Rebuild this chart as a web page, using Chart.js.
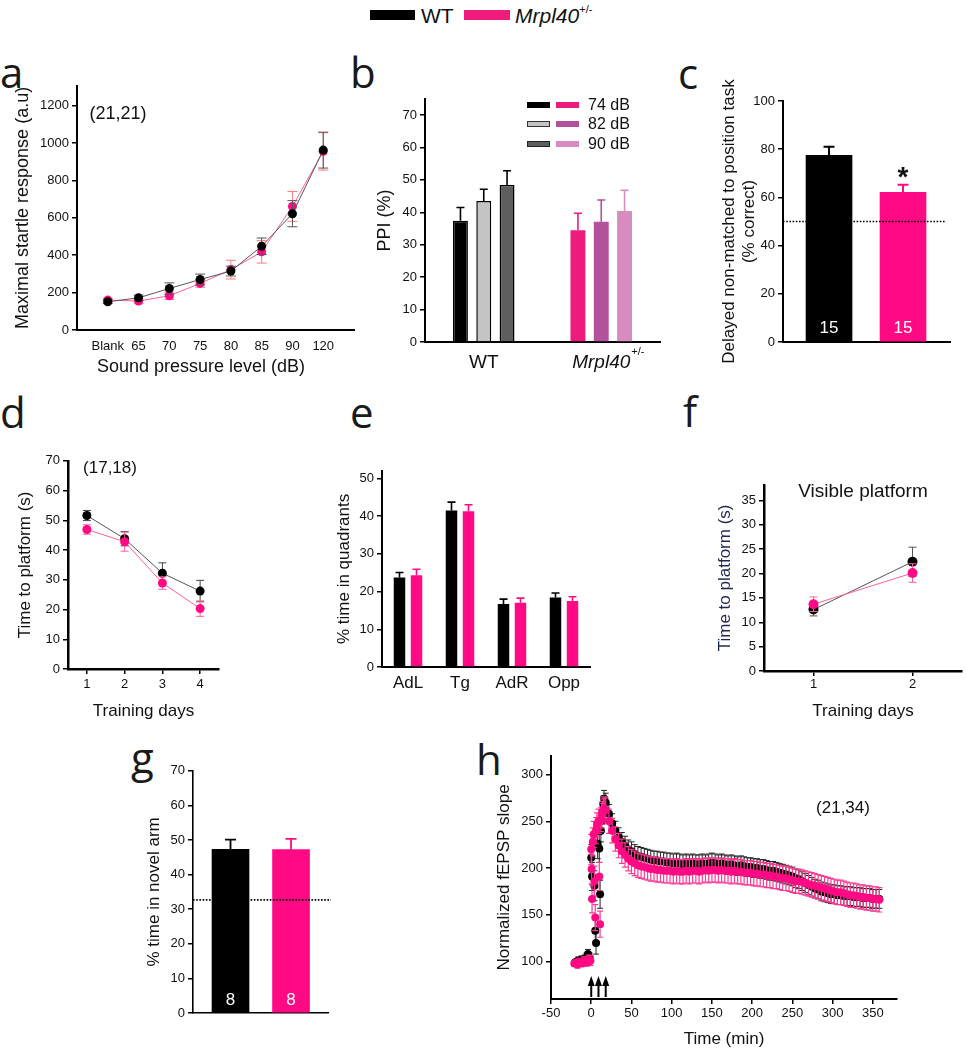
<!DOCTYPE html>
<html>
<head>
<meta charset="utf-8">
<title>Mrpl40 figure</title>
<script src="https://cdn.jsdelivr.net/npm/chart.js@4.4.1/dist/chart.umd.min.js"></script>
<style>
  html, body { margin:0; padding:0; background:#fff; }
  #fig { position:relative; width:967px; height:1050px; overflow:hidden; background:#fff;
         font-family:"Liberation Sans", Arial, sans-serif; color:#111; }
  #fig canvas { position:absolute; }
  .txt { position:absolute; white-space:nowrap; line-height:1; transform:translate(-50%,-50%); }
  .txl { position:absolute; white-space:nowrap; line-height:1; transform:translate(0,-50%); }
  .lt { position:absolute; font-family:"Open Sans","DejaVu Sans",sans-serif; font-size:42px; line-height:1; color:#1a1a1a; }
  .sw { position:absolute; box-sizing:border-box; }
</style>
</head>
<body>
<div id="fig">
  <!-- top legend -->
  <div class="sw" style="left:370px;top:10px;width:45px;height:10px;background:#000"></div>
  <div class="txl" style="left:421px;top:15px;font-size:21px;font-family:'Liberation Sans Narrow','Liberation Sans',Arial,sans-serif">WT</div>
  <div class="sw" style="left:464px;top:10px;width:46px;height:10px;background:#ef1b7d"></div>
  <div class="txl" style="left:515px;top:15px;font-size:21px;font-family:'Liberation Sans Narrow','Liberation Sans',Arial,sans-serif"><i>Mrpl40</i><span style="position:relative;top:-10px;font-size:11px">+/-</span></div>

  <!-- panel letters -->
  <div class="lt" style="left:0px;top:51px">a</div>
  <div class="lt" style="left:350px;top:51px">b</div>
  <div class="lt" style="left:678px;top:52px">c</div>
  <div class="lt" style="left:0px;top:391px">d</div>
  <div class="lt" style="left:350px;top:391px">e</div>
  <div class="lt" style="left:683px;top:390px">f</div>
  <div class="lt" style="left:131px;top:736px">g</div>
  <div class="lt" style="left:476px;top:738px">h</div>

  <canvas id="ca"></canvas>
  <canvas id="cb"></canvas>
  <canvas id="cc"></canvas>
  <canvas id="cd"></canvas>
  <canvas id="ce"></canvas>
  <canvas id="cf"></canvas>
  <canvas id="cg"></canvas>
  <canvas id="ch"></canvas>

  <!-- in-panel annotations -->
  <div class="txt" style="left:118px;top:113px;font-size:18px">(21,21)</div>
  <div class="txt" style="left:201px;top:366px;font-size:18px">Sound pressure level (dB)</div>
  <div class="txt" style="left:110px;top:467px;font-size:17px">(17,18)</div>
  <div class="txt" style="left:863px;top:490px;font-size:19px">Visible platform</div>
  <div class="txt" style="left:843px;top:807px;font-size:17px">(21,34)</div>

  <!-- panel b legend -->
  <div class="sw" style="left:527px;top:102px;width:23px;height:6px;background:#000"></div>
  <div class="sw" style="left:556px;top:102px;width:23px;height:6px;background:#ec1c7d"></div>
  <div class="txl" style="left:588px;top:105px;font-size:16px">74 dB</div>
  <div class="sw" style="left:527px;top:121px;width:23px;height:6px;background:#c4c4c4;border:1px solid #333"></div>
  <div class="sw" style="left:556px;top:121px;width:23px;height:6px;background:#b4519c"></div>
  <div class="txl" style="left:588px;top:124px;font-size:16px">82 dB</div>
  <div class="sw" style="left:527px;top:141px;width:23px;height:6px;background:#5e5e5e;border:1px solid #222"></div>
  <div class="sw" style="left:556px;top:141px;width:23px;height:6px;background:#d68cbf"></div>
  <div class="txl" style="left:588px;top:144px;font-size:16px">90 dB</div>
</div>

<script>
// ================= DATA =================
// a: acoustic startle
const aCats = ['Blank', '65', '70', '75', '80', '85', '90', '120'];
const aWT = [151, 172, 222, 270, 315, 448, 622, 962];
const aWTErr = [10, 15, 30, 29, 26, 44, 70, 96];
const aMut = [160, 155, 183, 249, 323, 418, 661, 955];
const aMutErr = [10, 12, 20, 20, 50, 60, 80, 100];
const aYTicks = [0, 200, 400, 600, 800, 1000, 1200];

// b: prepulse inhibition
const bGroups = ['WT', 'Mrpl40'];
const bLevels = ['74 dB', '82 dB', '90 dB'];
const bWT = [37.4, 43.5, 48.4];
const bWTErr = [4.1, 3.6, 4.4];
const bMut = [34.5, 37.1, 40.4];
const bMutErr = [5.2, 6.7, 6.4];
const bYTicks = [0, 10, 20, 30, 40, 50, 60, 70];

// c: delayed non-matched to position
const cGroups = ['WT', 'Mrpl40'];
const cMeans = [77.5, 62.1];
const cErr = [3.5, 3.2];
const cN = ['15', '15'];
const cChance = 50;
const cYTicks = [0, 20, 40, 60, 80, 100];

// d: hidden platform
const dDays = [1, 2, 3, 4];
const dWT = [51.6, 43.8, 32.2, 26.2];
const dWTErr = [1.7, 2.4, 3.5, 3.6];
const dMut = [46.9, 42.8, 28.9, 20.3];
const dMutErr = [1.6, 3.2, 2.1, 2.6];
const dYTicks = [0, 10, 20, 30, 40, 50, 60, 70];

// e: probe trial
const eQuads = ['AdL', 'Tg', 'AdR', 'Opp'];
const eWT = [23.7, 41.5, 16.7, 18.4];
const eWTErr = [1.35, 2.2, 1.3, 1.2];
const eMut = [24.3, 41.3, 17.0, 17.5];
const eMutErr = [1.6, 1.7, 1.25, 1.1];
const eYTicks = [0, 10, 20, 30, 40, 50];

// f: visible platform
const fDays = [1, 2];
const fWT = [12.6, 22.4];
const fWTErr = [1.3, 3.0];
const fMut = [13.7, 20.1];
const fMutErr = [1.5, 1.9];
const fYTicks = [0, 5, 10, 15, 20, 25, 30, 35];

// g: Y maze novel arm
const gGroups = ['WT', 'Mrpl40'];
const gMeans = [47.3, 47.2];
const gErr = [2.8, 3.1];
const gN = ['8', '8'];
const gChance = 32.7;
const gYTicks = [0, 10, 20, 30, 40, 50, 60, 70];

// h: LTP
const hTimeWTEarly = [-20, -18, -16, -14, -12, -10, -8, -6, -4, -2, 0, 1, 4, 5, 6, 8, 10, 11, 12, 13, 14, 15, 16];
const hWTEarly = [99, 100, 101, 100, 102, 101, 103, 104, 108, 104, 211, 191, 181, 133, 120, 226, 221, 172, 240, 250, 260, 268, 274];
const hWTErrEarly = [3, 3, 4, 3, 4, 4, 4, 5, 5, 5, 14, 15, 16, 13, 12, 16, 15, 15, 12, 11, 10, 9, 9];
const hTimeMutEarly = [-21, -19, -17, -15, -13, -11, -9, -7, -5, -3, -1, 0, 0.5, 1, 2, 3, 4, 5, 6, 7, 9, 10, 11, 12, 13, 14, 15, 16];
const hMutEarly = [98, 99, 97, 100, 99, 98, 101, 100, 99, 102, 101, 220, 199, 167, 228, 236, 186, 147, 240, 246, 250, 191, 140, 252, 256, 259, 262, 264];
const hMutErrEarly = [3, 3, 4, 3, 4, 3, 4, 4, 4, 5, 5, 16, 16, 15, 15, 14, 16, 14, 14, 13, 13, 15, 14, 13, 13, 12, 12, 12];
const hLateTime = [18, 22, 26, 30, 34, 38, 42, 46, 50, 54,
  58, 62, 66, 70, 74, 78, 82, 86, 90, 94,
  98, 102, 106, 110, 114, 118, 122, 126, 130, 134,
  138, 142, 146, 150, 154, 158, 162, 166, 170, 174,
  178, 182, 186, 190, 194, 198, 202, 206, 210, 214,
  218, 222, 226, 230, 234, 238, 242, 246, 250, 254,
  258, 262, 266, 270, 274, 278, 282, 286, 290, 294,
  298, 302, 306, 310, 314, 318, 322, 326, 330, 334,
  338, 342, 346, 350, 354, 358];
const hWTLate = [270, 258, 248, 240, 233, 228, 224, 220, 218, 215,
  213, 212, 211, 210, 209, 208, 208, 207, 207, 206,
  206, 205, 206, 205, 204, 205, 204, 205, 204, 204,
  205, 204, 205, 206, 205, 204, 205, 204, 203, 204,
  203, 202, 203, 202, 201, 201, 200, 200, 199, 199,
  198, 197, 197, 196, 195, 194, 193, 192, 191, 189,
  188, 186, 184, 182, 180, 178, 177, 175, 174, 173,
  172, 172, 171, 171, 170, 170, 170, 169, 169, 169,
  168, 168, 168, 167, 167, 167];
const hMutLate = [262, 250, 240, 231, 224, 218, 214, 210, 207, 205,
  203, 202, 201, 200, 199, 199, 198, 198, 197, 197,
  197, 196, 197, 196, 196, 197, 196, 197, 197, 196,
  197, 198, 197, 198, 198, 197, 198, 197, 197, 196,
  197, 196, 196, 195, 195, 195, 194, 194, 193, 193,
  192, 192, 191, 191, 190, 189, 189, 188, 187, 186,
  186, 185, 184, 183, 182, 181, 180, 179, 178, 177,
  176, 175, 174, 174, 173, 172, 171, 171, 170, 169,
  169, 168, 168, 167, 167, 166];
const hWTErrLate = 10;   // typical SEM after induction
const hMutErrLate = 13;
const hArrows = [0, 9, 18];
const hXTicks = [-50, 0, 50, 100, 150, 200, 250, 300, 350];
const hYTicks = [100, 150, 200, 250, 300];

// ================= STYLE / HELPERS =================
const FONT = '"Liberation Sans", Arial, Helvetica, sans-serif';
const PINK = '#ff0a84';
const num = v => String(v);

// error bars (drawn just before each dataset so markers sit on top)
Chart.register({
  id: 'errbars',
  beforeDatasetDraw(chart, args) {
    const ds = chart.data.datasets[args.index];
    if (ds.errors === undefined) return;
    const meta = args.meta;
    const ys = chart.scales[meta.yAxisID];
    const ctx = chart.ctx;
    ctx.save();
    ctx.lineWidth = ds.errWidth || 1;
    meta.data.forEach((el, j) => {
      const raw = ds.data[j];
      const v = (typeof raw === 'object') ? raw.y : raw;
      let e = ds.errors;
      if (Array.isArray(ds.errors)) e = (j < ds.errors.length) ? ds.errors[j] : ds.errDefault;
      const col = Array.isArray(ds.errColor) ? ds.errColor[j] : ds.errColor;
      const x = el.x;
      const yT = ys.getPixelForValue(v + e);
      const yB = ds.errUpOnly ? ys.getPixelForValue(v) : ys.getPixelForValue(v - e);
      const hw = (ds.capWidth || 8) / 2;
      ctx.strokeStyle = col;
      ctx.beginPath();
      ctx.moveTo(x, yB); ctx.lineTo(x, yT);
      ctx.moveTo(x - hw, yT); ctx.lineTo(x + hw, yT);
      if (!ds.errUpOnly) { ctx.moveTo(x - hw, yB); ctx.lineTo(x + hw, yB); }
      ctx.stroke();
    });
    ctx.restore();
  }
});

function yAxis(o) {
  return {
    type: 'linear', position: 'left', min: o.min, max: o.max,
    afterFit: s => { s.width = o.w; },
    afterBuildTicks: s => { s.ticks = o.ticks.map(v => ({ value: v })); },
    border: { display: true, color: '#000', width: o.bw || 2 },
    grid: { display: true, drawOnChartArea: false, drawTicks: true, tickLength: 5, color: '#000', lineWidth: 1.5 },
    ticks: { font: { family: FONT, size: 13 }, color: '#111', padding: 3, autoSkip: false, callback: num },
    title: { display: true, text: o.title, color: o.tc || '#111',
             font: { family: FONT, size: o.ts || 17 }, padding: { top: o.tp, bottom: 0 } }
  };
}

function xAxis(o) {
  const ax = {
    type: o.type || 'linear', position: 'bottom', offset: !!o.offset,
    afterFit: s => { s.height = o.h; },
    border: { display: true, color: '#000', width: o.bw || 2 },
    grid: o.tickMarks
      ? { display: true, drawOnChartArea: false, drawTicks: true, tickLength: 5, color: '#000', lineWidth: 1.5 }
      : { display: false, drawTicks: false, tickLength: 0 },
    ticks: { display: o.labels !== false, font: { family: FONT, size: o.fs || 13 }, color: '#111',
             padding: o.pad || 3, autoSkip: false, maxRotation: 0 },
    title: o.title
      ? { display: true, text: o.title, color: '#111', font: { family: FONT, size: o.ts || 17 }, padding: { top: 0, bottom: 0 } }
      : { display: false }
  };
  if (o.cb) ax.ticks.callback = o.cb;
  if (o.min !== undefined) { ax.min = o.min; ax.max = o.max; }
  if (o.ticks) ax.afterBuildTicks = s => { s.ticks = o.ticks.map(v => ({ value: v })); };
  return ax;
}

function makeChart(id, box, type, data, scales, plugins) {
  const canvas = document.getElementById(id);
  const left = box.L - box.yW, top = box.T - box.padT;
  const w = box.R + box.padR - left, h = box.B + box.xH - top;
  canvas.width = w; canvas.height = h;
  canvas.style.left = left + 'px'; canvas.style.top = top + 'px';
  canvas.style.width = w + 'px'; canvas.style.height = h + 'px';
  return new Chart(canvas, {
    type, data,
    options: {
      responsive: false, animation: false, events: [], devicePixelRatio: 1,
      layout: { padding: { left: 0, top: box.padT, right: box.padR, bottom: 0 } },
      plugins: { legend: { display: false }, tooltip: { enabled: false } },
      scales
    },
    plugins: plugins || []
  });
}

const xy = (xs, ys) => ys.map((v, i) => ({ x: xs[i], y: v }));

// bar annotations: n labels, chance line, asterisk
function barNotes(nLabels, chance, lineExtra, nOffset, star) {
  return {
    id: 'barNotes',
    afterDatasetsDraw(chart) {
      const ctx = chart.ctx, ys = chart.scales.y, ca = chart.chartArea;
      const meta = chart.getDatasetMeta(0);
      ctx.save();
      const yc = ys.getPixelForValue(chance);
      ctx.strokeStyle = '#000'; ctx.lineWidth = 1.6; ctx.setLineDash([1.6, 1.6]);
      ctx.beginPath(); ctx.moveTo(ca.left, yc); ctx.lineTo(ca.right + lineExtra, yc); ctx.stroke();
      ctx.setLineDash([]);
      ctx.fillStyle = '#fff'; ctx.font = '17px ' + FONT; ctx.textAlign = 'center'; ctx.textBaseline = 'middle';
      meta.data.forEach((el, i) => ctx.fillText(nLabels[i], el.x, ca.bottom - nOffset));
      if (star) {
        const ds = chart.data.datasets[0];
        const el = meta.data[star.index];
        const v = ds.data[star.index].y + ds.errors[star.index];
        ctx.fillStyle = '#111'; ctx.font = 'bold 28px ' + FONT; ctx.textBaseline = 'alphabetic';
        ctx.fillText('*', el.x, ys.getPixelForValue(v) + 1);
      }
      ctx.restore();
    }
  };
}

// ================= PANEL a =================
makeChart('ca', { L: 77, T: 85, R: 354, B: 330, yW: 77, xH: 46, padT: 10, padR: 10 }, 'line', {
  datasets: [
    { data: xy(aCats.map((c, i) => i), aWT), errors: aWTErr, errColor: '#555', capWidth: 10,
      borderColor: '#555', borderWidth: 1, pointBackgroundColor: '#000', pointRadius: 4.5, pointBorderWidth: 0, order: 1 },
    { data: xy(aCats.map((c, i) => i), aMut), errors: aMutErr, errColor: '#ff7a7a', capWidth: 10,
      borderColor: '#ff5f8f', borderWidth: 1, pointBackgroundColor: PINK, pointRadius: 4.5, pointBorderWidth: 0, order: 2 }
  ]
}, {
  x: xAxis({ min: -1, max: 8, ticks: aCats.map((c, i) => i), cb: v => aCats[v], h: 46, pad: 9 }),
  y: yAxis({ min: 0, max: 1306, ticks: aYTicks, w: 77, tp: 12.2, ts: 18, title: 'Maximal startle response (a.u)' })
});

// ================= PANEL b =================
const bWTColors = ['#000000', '#c4c4c4', '#5e5e5e'];
const bMutColors = ['#ec1c7d', '#b4519c', '#d68cbf'];
makeChart('cb', { L: 425, T: 98, R: 660, B: 342, yW: 60, xH: 40, padT: 10, padR: 5 }, 'bar', {
  labels: bGroups,
  datasets: bLevels.map((lvl, k) => ({
    label: lvl,
    data: [bWT[k], bMut[k]],
    backgroundColor: [bWTColors[k], bMutColors[k]],
    borderColor: ['#000', bMutColors[k]],
    borderWidth: [1.5, 0],
    categoryPercentage: 0.595, barPercentage: 0.64,
    errors: [bWTErr[k], bMutErr[k]], errColor: ['#000', bMutColors[k]], errUpOnly: true, capWidth: 8, errWidth: 1.6
  }))
}, {
  x: xAxis({ type: 'category', offset: true, labels: false, h: 40 }),
  y: yAxis({ min: 0, max: 75, ticks: bYTicks, w: 60, tp: 9.2, ts: 18, title: 'PPI (%)' })
}, [{
  id: 'bLabels',
  afterDraw(chart) {
    const ctx = chart.ctx, xs = chart.scales.x, y = chart.chartArea.bottom + 21;
    ctx.save();
    ctx.fillStyle = '#111'; ctx.textBaseline = 'middle';
    ctx.font = '19px ' + FONT; ctx.textAlign = 'center';
    ctx.fillText(bGroups[0], xs.getPixelForValue(0), y);
    ctx.font = 'italic 19px ' + FONT; ctx.textAlign = 'left';
    const w = ctx.measureText(bGroups[1]).width;
    const x0 = xs.getPixelForValue(1) - w / 2;
    ctx.fillText(bGroups[1], x0, y);
    ctx.font = '11px ' + FONT;
    ctx.fillText('+/-', x0 + w + 1, y - 11);
    ctx.restore();
  }
}]);

// ================= PANEL c =================
makeChart('cc', { L: 783, T: 101, R: 950, B: 342, yW: 75, xH: 35, padT: 30, padR: 10 }, 'bar', {
  datasets: [{
    data: xy([1, 2], cMeans), backgroundColor: ['#000', PINK], borderWidth: 0, barThickness: 46,
    errors: cErr, errColor: ['#000', PINK], errUpOnly: true, capWidth: 11, errWidth: 2
  }]
}, {
  x: xAxis({ min: 0.378, max: 2.635, labels: false, h: 35 }),
  y: yAxis({ min: 0, max: 100, ticks: cYTicks, w: 75, tp: 10.8, ts: 17,
             title: ['Delayed non-matched to position task', '(% correct)'] })
}, [barNotes(cN, cChance, -5, 14, { index: 1 })]);

// ================= PANEL d =================
makeChart('cd', { L: 68, T: 460, R: 219, B: 669, yW: 68, xH: 53, padT: 10, padR: 10 }, 'line', {
  datasets: [
    { data: xy(dDays, dWT), errors: dWTErr, errColor: '#444', capWidth: 8,
      borderColor: '#555', borderWidth: 1, pointBackgroundColor: '#000', pointRadius: 4.5, pointBorderWidth: 0, order: 2 },
    { data: xy(dDays, dMut), errors: dMutErr, errColor: '#ff5fa0', capWidth: 8,
      borderColor: '#ff5f9a', borderWidth: 1, pointBackgroundColor: PINK, pointRadius: 4.5, pointBorderWidth: 0, order: 1 }
  ]
}, {
  x: xAxis({ min: 0.5, max: 4.5, ticks: dDays, cb: num, tickMarks: true, h: 53, pad: 3, title: 'Training days', ts: 17, bw: 2.5 }),
  y: yAxis({ min: 0, max: 70, ticks: dYTicks, w: 68, tp: 15.3, ts: 17, title: 'Time to platform (s)', bw: 2.5 })
});

// ================= PANEL e =================
makeChart('ce', { L: 382, T: 470, R: 590, B: 667, yW: 50, xH: 36, padT: 10, padR: 5 }, 'bar', {
  labels: eQuads,
  datasets: [
    { data: eWT, backgroundColor: '#000', borderWidth: 0, categoryPercentage: 0.654, barPercentage: 0.676,
      errors: eWTErr, errColor: '#000', errUpOnly: true, capWidth: 8, errWidth: 1.6 },
    { data: eMut, backgroundColor: PINK, borderWidth: 0, categoryPercentage: 0.654, barPercentage: 0.676,
      errors: eMutErr, errColor: PINK, errUpOnly: true, capWidth: 8, errWidth: 1.6 }
  ]
}, {
  x: xAxis({ type: 'category', offset: true, h: 36, fs: 17, pad: 6 }),
  y: yAxis({ min: 0, max: 52, ticks: eYTicks, w: 50, tp: 2.3, ts: 17, title: '% time in quadrants' })
});

// ================= PANEL f =================
makeChart('cf', { L: 764, T: 484, R: 967, B: 671, yW: 60, xH: 51, padT: 10, padR: 0 }, 'line', {
  datasets: [
    { data: xy(fDays, fWT), errors: fWTErr, errColor: '#555', capWidth: 8,
      borderColor: '#555', borderWidth: 1, pointBackgroundColor: '#000', pointRadius: 5, pointBorderWidth: 0, order: 2 },
    { data: xy(fDays, fMut), errors: fMutErr, errColor: '#ff5fa0', capWidth: 8,
      borderColor: '#ff5f9a', borderWidth: 1, pointBackgroundColor: PINK, pointRadius: 5, pointBorderWidth: 0, order: 1 }
  ]
}, {
  x: xAxis({ min: 0.5, max: 2.5, ticks: fDays, cb: num, tickMarks: true, h: 51, pad: 1, title: 'Training days', ts: 17, bw: 2.5 }),
  y: yAxis({ min: 0, max: 38.2, ticks: fYTicks, w: 60, tp: 10.8, ts: 17, title: 'Time to platform (s)', tc: '#1f2652', bw: 2.5 })
});

// ================= PANEL g =================
makeChart('cg', { L: 193, T: 770, R: 328, B: 1013, yW: 60, xH: 12, padT: 10, padR: 10 }, 'bar', {
  datasets: [{
    data: xy([1, 2], gMeans), backgroundColor: ['#000', PINK], borderWidth: 0, barThickness: 37,
    errors: gErr, errColor: ['#000', PINK], errUpOnly: true, capWidth: 11, errWidth: 1.8
  }]
}, {
  x: xAxis({ min: 0.38, max: 2.611, labels: false, h: 12, bw: 1.6 }),
  y: yAxis({ min: 0, max: 70, ticks: gYTicks, w: 60, tp: 11.3, ts: 17, title: '% time in novel arm', bw: 1.6 })
}, [barNotes(gN, gChance, 3, 13, null)]);

// ================= PANEL h =================
makeChart('ch', { L: 551, T: 755, R: 897, B: 999, yW: 60, xH: 51, padT: 10, padR: 10 }, 'scatter', {
  datasets: [
    { data: xy(hTimeWTEarly.concat(hLateTime), hWTEarly.concat(hWTLate)),
      errors: hWTErrEarly, errDefault: hWTErrLate, errColor: '#222',
      capWidth: 6, errWidth: 1, backgroundColor: '#000', pointRadius: 4, pointBorderWidth: 0, borderWidth: 0, order: 2 },
    { data: xy(hTimeMutEarly.concat(hLateTime), hMutEarly.concat(hMutLate)),
      errors: hMutErrEarly, errDefault: hMutErrLate, errColor: '#ff3a94',
      capWidth: 6, errWidth: 1.2, backgroundColor: PINK, pointRadius: 4, pointBorderWidth: 0, borderWidth: 0, order: 1 }
  ]
}, {
  x: xAxis({ min: -50, max: 380, ticks: hXTicks, cb: num, tickMarks: true, h: 51, pad: 1.5, title: 'Time (min)', ts: 17 }),
  y: yAxis({ min: 60, max: 320, ticks: hYTicks, w: 60, tp: 3.3, ts: 17, title: 'Normalized fEPSP slope' })
}, [{
  id: 'arrows',
  afterDatasetsDraw(chart) {
    const ctx = chart.ctx, xs = chart.scales.x, b = chart.chartArea.bottom;
    ctx.save();
    ctx.strokeStyle = '#000'; ctx.fillStyle = '#000'; ctx.lineWidth = 2;
    hArrows.forEach(t => {
      const x = xs.getPixelForValue(t);
      ctx.beginPath(); ctx.moveTo(x, b - 2); ctx.lineTo(x, b - 15); ctx.stroke();
      ctx.beginPath(); ctx.moveTo(x, b - 23); ctx.lineTo(x - 3.5, b - 13); ctx.lineTo(x + 3.5, b - 13); ctx.closePath(); ctx.fill();
    });
    ctx.restore();
  }
}]);
</script>
</body>
</html>
